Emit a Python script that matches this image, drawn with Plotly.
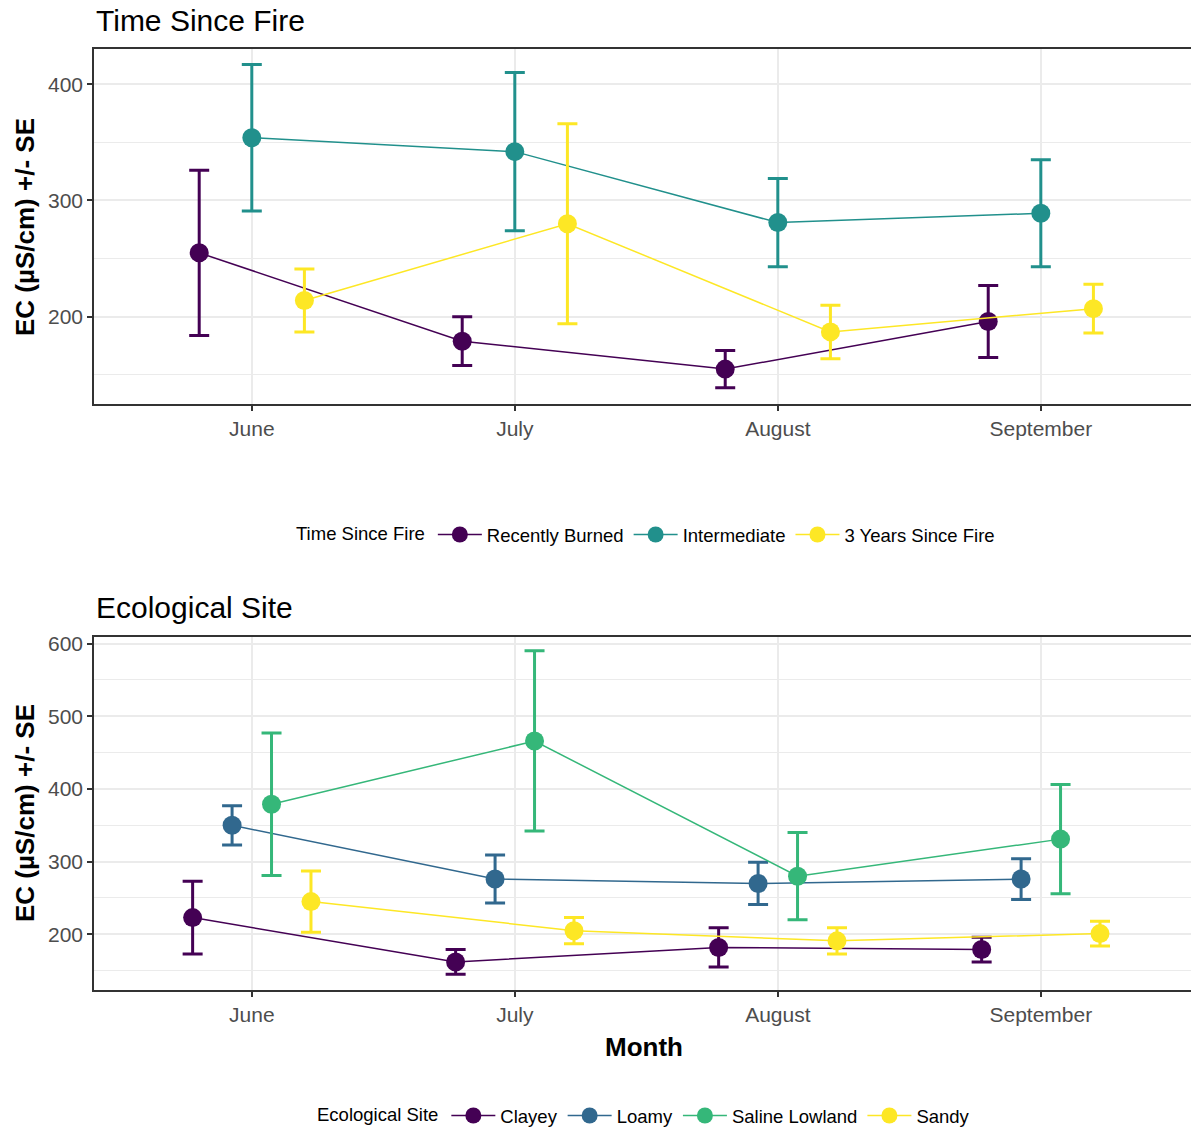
import plotly.graph_objects as go
from plotly.subplots import make_subplots

# ---- data -------------------------------------------------------------
months = ["June", "July", "August", "September"]

fire_groups = ["Recently Burned", "Intermediate", "3 Years Since Fire"]
fire_recent_mean = [255, 179, 155, 196]
fire_recent_se = [71, 21, 16, 31]
fire_inter_mean = [354, 342, 281, 289]
fire_inter_se = [63, 68, 38, 46]
fire_3yr_mean = [214, 280, 187, 207]
fire_3yr_se = [27, 86, 23, 21]

site_groups = ["Clayey", "Loamy", "Saline Lowland", "Sandy"]
clayey_mean = [223, 162, 182, 179]
clayey_se = [50, 17, 27, 17]
loamy_mean = [350, 276, 270, 276]
loamy_se = [27, 33, 29, 28]
saline_mean = [379, 466, 280, 331]
saline_se = [98, 124, 60, 75]
sandy_mean = [245, 205, 191, 201]
sandy_se = [42, 18, 18, 17]

# ---- styling ----------------------------------------------------------
fire_colors = ["#440154", "#21908C", "#FDE725"]
site_colors = ["#440154", "#31688E", "#35B779", "#FDE725"]
FONT = "Liberation Sans, Arial, sans-serif"
W, H = 1191, 1135
DODGE = 0.6

fig = make_subplots(rows=2, cols=1)


def add_group(row, names, means, ses, colors, legend):
    n = len(names)
    step = DODGE / n
    for i, (name, m, s, c) in enumerate(zip(names, means, ses, colors)):
        off = (i - (n - 1) / 2) * step
        xs = [k + 1 + off for k in range(len(months))]
        fig.add_trace(
            go.Scatter(
                x=xs, y=m, name=name, mode="lines+markers",
                line=dict(color=c, width=1.5),
                marker=dict(color=c, size=19),
                error_y=dict(type="data", array=s, color=c, thickness=3, width=10),
                legend=legend,
            ),
            row=row, col=1,
        )


add_group(1, fire_groups,
          [fire_recent_mean, fire_inter_mean, fire_3yr_mean],
          [fire_recent_se, fire_inter_se, fire_3yr_se],
          fire_colors, "legend")
add_group(2, site_groups,
          [clayey_mean, loamy_mean, saline_mean, sandy_mean],
          [clayey_se, loamy_se, saline_se, sandy_se],
          site_colors, "legend2")

x_left = 94 / W
top_dom = [1 - 404 / H, 1 - 49.3 / H]
bot_dom = [1 - 990 / H, 1 - 636.7 / H]

xcommon = dict(
    range=[0.4, 4.571], tickvals=[1, 2, 3, 4], ticktext=months,
    domain=[x_left, 1], showgrid=True, gridcolor="#EBEBEB", gridwidth=1.5,
    zeroline=False, showline=True, linecolor="#333333", linewidth=1.5,
    mirror=True, ticks="outside", ticklen=5, tickwidth=1.5, tickcolor="#333333",
    tickfont=dict(family=FONT, size=21, color="#4D4D4D"), automargin=False,
)
ycommon = dict(
    dtick=100, tick0=0, showgrid=True, gridcolor="#EBEBEB", gridwidth=1.5,
    minor=dict(dtick=50, tick0=0, showgrid=True, gridcolor="#EBEBEB", gridwidth=1, ticks=""),
    zeroline=False, showline=True, linecolor="#333333", linewidth=1.5,
    ticks="outside", ticklen=5, tickwidth=1.5, tickcolor="#333333",
    tickfont=dict(family=FONT, size=21, color="#4D4D4D"), automargin=False,
)

legend_common = dict(
    orientation="h", xanchor="center", itemwidth=44,
    font=dict(family=FONT, size=18.5, color="black"), bgcolor="rgba(0,0,0,0)",
)

fig.update_layout(
    width=W, height=H,
    margin=dict(l=0, r=0, t=0, b=0),
    paper_bgcolor="white", plot_bgcolor="white",
    font=dict(family=FONT, color="black"),
    xaxis=dict(xcommon, anchor="y"),
    xaxis2=dict(xcommon, anchor="y2"),
    yaxis=dict(ycommon, domain=top_dom, range=[125, 430], anchor="x"),
    yaxis2=dict(ycommon, domain=bot_dom, range=[123.4, 609.5], anchor="x2"),
    legend=dict(
        legend_common, x=647 / W, y=1 - 535 / H, yanchor="middle",
        title=dict(text="Time Since Fire", font=dict(family=FONT, size=18.5), side="left"),
    ),
    legend2=dict(
        legend_common, x=645 / W, y=0, yanchor="bottom",
        title=dict(text="Ecological Site", font=dict(family=FONT, size=18.5), side="left"),
    ),
)

ytitle = "<b>EC (µS/cm) +/- SE</b>"
annotations = [
    dict(text="Time Since Fire", x=x_left, y=1 - 20 / H, xanchor="left", yanchor="middle",
         font=dict(family=FONT, size=30, color="black")),
    dict(text="Ecological Site", x=x_left, y=1 - 607 / H, xanchor="left", yanchor="middle",
         font=dict(family=FONT, size=30, color="black")),
    dict(text=ytitle, x=25 / W, y=1 - 227 / H, textangle=-90, xanchor="center", yanchor="middle",
         font=dict(family=FONT, size=26, color="black")),
    dict(text=ytitle, x=25 / W, y=1 - 813 / H, textangle=-90, xanchor="center", yanchor="middle",
         font=dict(family=FONT, size=26, color="black")),
    dict(text="<b>Month</b>", x=644 / W, y=1 - 1047 / H, xanchor="center", yanchor="middle",
         font=dict(family=FONT, size=26, color="black")),
]
for a in annotations:
    a.update(xref="paper", yref="paper", showarrow=False)
fig.update_layout(annotations=annotations)

fig.write_html("out.html")
